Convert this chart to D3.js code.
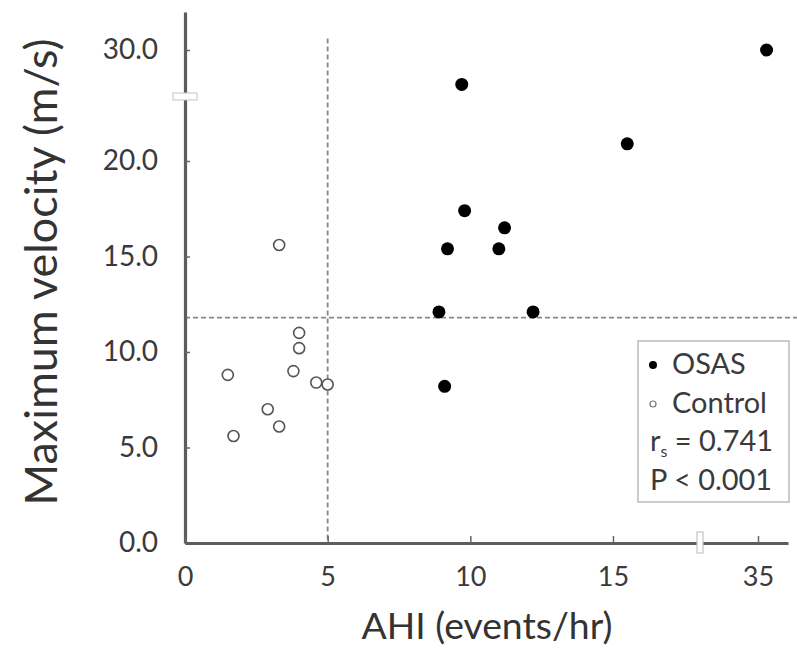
<!DOCTYPE html>
<html>
<head>
<meta charset="utf-8">
<script src="https://cdn.jsdelivr.net/npm/d3@7"></script>
<style>
  body { margin: 0; background: #fff; }
  text { font-family: Lato, "Open Sans", sans-serif; fill: #3a3a3a; }
</style>
</head>
<body>
<div id="chart"></div>
<script>
// Data
var osasAHI = [35.3, 9.7, 15.5, 9.8, 11.2, 9.2, 11.0, 8.9, 12.2, 9.1];
var osasVel = [30.0, 28.2, 20.9, 17.4, 16.5, 15.4, 15.4, 12.1, 12.1, 8.2];
var ctrlAHI = [3.3, 4.0, 4.0, 3.8, 1.5, 4.6, 5.0, 2.9, 3.3, 1.7];
var ctrlVel = [15.6, 11.0, 10.2, 9.0, 8.8, 8.4, 8.3, 7.0, 6.1, 5.6];
var xTicks = [0, 5, 10, 15, 35];
var yTicks = [0, 5, 10, 15, 20, 30];
var yTickLabels = ["0.0", "5.0", "10.0", "15.0", "20.0", "30.0"];
var ahiCut = 5, velCut = 11.8;
var legendLines = ["OSAS", "Control", "r_s = 0.741", "P < 0.001"];

var W = 797, H = 657;
var svg = d3.select("#chart").append("svg")
    .attr("width", W).attr("height", H);

// Broken axes: piecewise linear scales, flat part = the break
var x = d3.scaleLinear()
    .domain([0, 18.05, 32.97, 36.05])
    .range([185, 700, 700, 788]);
var y = d3.scaleLinear()
    .domain([0, 23.35, 27.54, 31.99])
    .range([543, 97, 97, 12]);

// Dashed cut-off lines
svg.append("line")
    .attr("x1", x(ahiCut)).attr("x2", x(ahiCut))
    .attr("y1", y(30.6)).attr("y2", y(0))
    .attr("stroke", "#888").attr("stroke-width", 1.8)
    .attr("stroke-dasharray", "5,3");
svg.append("line")
    .attr("x1", x(0)).attr("x2", W)
    .attr("y1", y(velCut)).attr("y2", y(velCut))
    .attr("stroke", "#888").attr("stroke-width", 1.8)
    .attr("stroke-dasharray", "5,3");

// Axes
function styleAxis(g, fs) {
    g.attr("font-family", null).attr("font-size", null);
    g.select(".domain").attr("stroke", "#5c5c5c").attr("stroke-width", 3.2);
    g.selectAll(".tick line").attr("stroke", "#666").attr("stroke-width", 1.5);
    g.selectAll(".tick text").style("font-size", fs).style("fill", "#3a3a3a");
}

var yAxis = svg.append("g")
    .attr("transform", "translate(" + x(0) + ",0)")
    .call(d3.axisLeft(y)
        .tickValues(yTicks)
        .tickFormat(function (d, i) { return yTickLabels[i]; })
        .tickSizeInner(-5).tickSizeOuter(0).tickPadding(27))
    .call(styleAxis, "28px");

var xAxis = svg.append("g")
    .attr("transform", "translate(0," + y(0) + ")")
    .call(d3.axisBottom(x)
        .tickValues(xTicks)
        .tickSizeInner(-7).tickSizeOuter(0).tickPadding(24))
    .call(styleAxis, "27px");

// Break marks
svg.append("rect")
    .attr("x", x(0) - 12).attr("y", y(23.35) - 4)
    .attr("width", 24).attr("height", 7)
    .attr("fill", "#fff").attr("stroke", "#c4c4c4").attr("stroke-width", 1);
svg.append("rect")
    .attr("x", x(18.05) - 3).attr("y", y(0) - 11)
    .attr("width", 6).attr("height", 21)
    .attr("fill", "#fff").attr("stroke", "#c4c4c4").attr("stroke-width", 1.2);

// Points
var osas = osasAHI.map(function (d, i) { return { ahi: d, vel: osasVel[i] }; });
var ctrl = ctrlAHI.map(function (d, i) { return { ahi: d, vel: ctrlVel[i] }; });

svg.append("g").selectAll("circle")
    .data(ctrl).enter().append("circle")
    .attr("cx", function (d) { return x(d.ahi); })
    .attr("cy", function (d) { return y(d.vel); })
    .attr("r", 5.5)
    .attr("fill", "#fff").attr("stroke", "#555").attr("stroke-width", 1.6);

svg.append("g").selectAll("circle")
    .data(osas).enter().append("circle")
    .attr("cx", function (d) { return x(d.ahi); })
    .attr("cy", function (d) { return y(d.vel); })
    .attr("r", 6.5)
    .attr("fill", "#000");

// Text sized to the widths in the figure
function fit(t, width) {
    var w = t.node().getComputedTextLength();
    var fs = parseFloat(t.style("font-size"));
    t.style("font-size", (fs * width / w) + "px");
    return fs * width / w;
}

var xt = svg.append("text")
    .attr("x", 487).attr("y", 639)
    .attr("text-anchor", "middle")
    .style("font-size", "32px").style("fill", "#333")
    .text("AHI (events/hr)");
fit(xt, 251);

var yt = svg.append("text")
    .attr("transform", "translate(57,272) rotate(-90)")
    .attr("text-anchor", "middle")
    .style("font-size", "36px").style("fill", "#333")
    .text("Maximum velocity (m/s)");
fit(yt, 467);

// Legend
var lg = svg.append("g").attr("transform", "translate(638,341)");
lg.append("rect")
    .attr("width", 151).attr("height", 161)
    .attr("fill", "#fff").attr("stroke", "#bbb").attr("stroke-width", 1.5);

lg.append("circle").attr("cx", 15).attr("cy", 24).attr("r", 4).attr("fill", "#000");
lg.append("circle").attr("cx", 15).attr("cy", 63).attr("r", 3)
    .attr("fill", "#fff").attr("stroke", "#777").attr("stroke-width", 1.2);

var items = lg.selectAll("text.item")
    .data(legendLines).enter().append("text")
    .attr("class", "item")
    .attr("x", function (d, i) { return i < 2 ? 34 : 12; })
    .attr("y", function (d, i) { return 33 + i * 38.5; })
    .style("font-size", "23px")
    .each(function (d) {
        var t = d3.select(this);
        if (d.indexOf("r_s") === 0) {
            t.append("tspan").text("r");
            t.append("tspan").attr("class", "sub").attr("dy", 6).style("font-size", "14px").text("s");
            t.append("tspan").attr("dy", -6).text(d.slice(3));
        } else {
            t.text(d);
        }
    });
var legendFs = fit(items.filter(function (d) { return d === "Control"; }), 95);
items.style("font-size", legendFs + "px");
items.selectAll("tspan.sub").style("font-size", (legendFs * 0.55) + "px");
</script>
</body>
</html>
